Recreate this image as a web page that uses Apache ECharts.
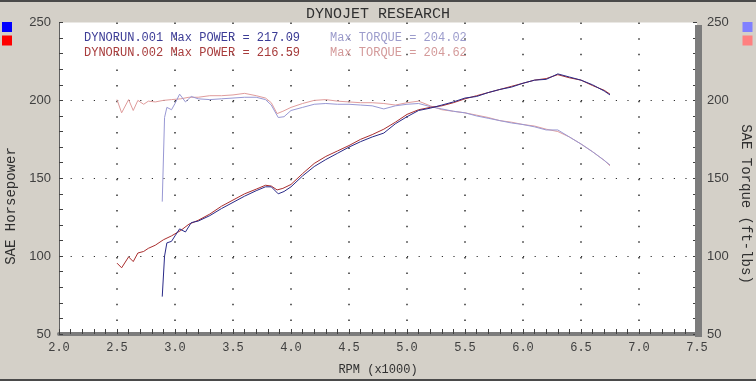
<!DOCTYPE html>
<html>
<head>
<meta charset="utf-8">
<script src="https://cdn.jsdelivr.net/npm/echarts@6/dist/echarts.min.js"></script>
<style>
html,body{margin:0;padding:0;background:#d4d0c8;}
#chart{width:756px;height:381px;}
</style>
</head>
<body>
<div id="chart"></div>
<script>
// ---- data ----
const chartTitle = 'DYNOJET RESEARCH';
const leftAxisName = 'SAE Horsepower';
const rightAxisName = 'SAE Torque (ft-lbs)';
const xAxisName = 'RPM (x1000)';
const runNames = ['DYNORUN.001', 'DYNORUN.002'];
const maxPower = [217.09, 216.59];
const maxTorque = [204.02, 204.62];
const xTickLabels = ['2.0','2.5','3.0','3.5','4.0','4.5','5.0','5.5','6.0','6.5','7.0','7.5'];
const yTickLabels = ['50','100','150','200','250'];

const run1Rpm = [2.89,2.91,2.93,2.97,3.00,3.04,3.09,3.14,3.20,3.30,3.40,3.50,3.60,3.70,3.78,3.83,3.89,3.94,4.00,4.10,4.20,4.30,4.40,4.50,4.60,4.70,4.80,4.90,5.00,5.10,5.20,5.30,5.40,5.50,5.60,5.70,5.80,5.90,6.00,6.10,6.20,6.30,6.40,6.50,6.60,6.70,6.75];
const run1Power = [74,100,108.5,109.5,113,117.5,115.5,121.5,122.5,126,130.5,134.5,138.5,142,144.5,144.5,140,141.5,144.5,151.5,157.5,162,166,170,173.5,176.5,179,185,189.5,193.5,195,197,199,201.5,202.5,205,207,208.5,211,213,213.5,217,215,213,210,206,203.5];
const run1Torque = [135,189,195.5,194,198,204,199,202.5,201,200.5,201,201.5,202,202,200.5,197,189,189.5,193.5,195.5,197.5,198,197.5,197.5,197,196.5,194.5,196.5,197.5,198,196,194.5,193,192,190,188.5,187,185.5,184.5,183,181,181,176.5,172,167,161.5,158.5];

const run2Rpm = [2.50,2.54,2.60,2.64,2.68,2.73,2.77,2.83,2.90,2.97,3.05,3.12,3.20,3.30,3.40,3.50,3.60,3.70,3.78,3.83,3.88,3.93,4.00,4.10,4.20,4.30,4.40,4.50,4.60,4.70,4.80,4.90,5.00,5.10,5.20,5.30,5.40,5.50,5.60,5.70,5.80,5.90,6.00,6.10,6.20,6.30,6.40,6.50,6.60,6.70,6.75];
const run2Power = [95.5,92.5,99.5,96.5,102,103,105,107,110.5,113,116.5,120.5,123,127,132,136,140,143,145.5,145,142.5,143.5,146,153,159.5,164,167.5,171,175,178,181.5,186,191,194,195.5,196.5,198.5,201,203,205,207,209,211,213,214,216.5,214.5,213,209.5,206.5,204];
const run2Torque = [200.5,192,200.5,193.5,200,197.5,199.5,199,200,200.5,201,202,202,203,203,203.5,204.5,203,201.5,198.5,191.5,193,195.5,198,200,200.5,199.5,199,198.5,198.5,198,197,198.5,199.5,196.5,194,193,192,190.5,189,187,186,184.5,183.5,181.5,180,176.5,172,167,161.5,158];

const zip = (xs, ys) => xs.map((x, i) => [x, ys[i]]);

const mono = 'Liberation Mono, Courier New, monospace';
const sans = 'Liberation Sans, Arial, sans-serif';
const colors = {
  p1: '#2a2a88', p2: '#aa2e2e', t1: '#9898d4', t2: '#e09c9c',
  l1: '#3c3c96', l1b: '#9c9ccc', l2: '#a83c3c', l2b: '#d49a9a'
};

const chart = echarts.init(document.getElementById('chart'), null, {renderer: 'canvas'});

const gridL = 59, gridR = 697, gridT = 22.5, gridB = 335;

const yAxisCommon = {
  type: 'value', min: 50, max: 250, interval: 50,
  axisLabel: {fontFamily: sans, fontSize: 13, color: '#404040', margin: 8,
    formatter: v => yTickLabels[(v - 50) / 50]},
  axisTick: {show: true, inside: true, length: 4, lineStyle: {color: '#404040'}},
  minorTick: {show: true, splitNumber: 5, length: 4, lineStyle: {color: '#404040'}}
};

const option = {
  backgroundColor: '#d4d0c8',
  animation: false,
  title: {
    text: chartTitle, left: 'center', top: 2,
    textStyle: {fontFamily: mono, fontSize: 15, fontWeight: 'normal', color: '#303030'}
  },
  grid: {left: gridL, right: 756 - gridR, top: gridT, bottom: 381 - gridB, backgroundColor: '#ffffff', show: true, borderWidth: 0},
  xAxis: {
    type: 'value', min: 2, max: 7.5, interval: 0.5,
    name: xAxisName, nameLocation: 'middle', nameGap: 30,
    nameTextStyle: {fontFamily: mono, fontSize: 12, color: '#303030'},
    axisLine: {show: true, onZero: false, lineStyle: {color: '#7c7c7c', width: 4}},
    axisTick: {show: true, inside: true, length: 5, lineStyle: {color: '#404040'}},
    minorTick: {show: true, splitNumber: 5, length: 5, lineStyle: {color: '#404040'}},
    axisLabel: {fontFamily: mono, fontSize: 12, color: '#404040', margin: 8,
      formatter: v => xTickLabels[Math.round((v - 2) / 0.5)]},
    splitLine: {show: true, showMinLine: false, showMaxLine: false,
      lineStyle: {color: '#303030', width: 1.5, type: [1.5, 14.125]}}
  },
  yAxis: [
    Object.assign({}, yAxisCommon, {
      position: 'left',
      axisLine: {show: true, lineStyle: {color: '#606060', width: 1}},
      splitLine: {show: true, showMinLine: false, showMaxLine: false,
        lineStyle: {color: '#303030', width: 1, type: [1.2, 10.4]}}
    }),
    Object.assign({}, yAxisCommon, {
      position: 'right',
      axisLabel: Object.assign({}, yAxisCommon.axisLabel, {margin: 10}),
      axisLine: {show: false},
      splitLine: {show: false}
    })
  ],
  graphic: [
    {type: 'rect', shape: {x: 0, y: 0, width: 756, height: 2}, style: {fill: '#4a4a4a'}, z: 10},
    {type: 'rect', shape: {x: 0, y: 379, width: 756, height: 2}, style: {fill: '#4a4a4a'}, z: 10},
    {type: 'rect', shape: {x: 695, y: 25, width: 7, height: 312}, style: {fill: '#7c7c7c'}, z: 1},
    {type: 'rect', shape: {x: 2, y: 22, width: 10, height: 10}, style: {fill: '#0000ff'}},
    {type: 'rect', shape: {x: 2, y: 35.5, width: 10, height: 10}, style: {fill: '#ff0000'}},
    {type: 'rect', shape: {x: 742.5, y: 22, width: 10, height: 10}, style: {fill: '#8080ff'}},
    {type: 'rect', shape: {x: 742.5, y: 35.5, width: 10, height: 10}, style: {fill: '#ff8080'}},
    {type: 'text', x: 11, y: 206, rotation: Math.PI / 2, style: {text: leftAxisName, font: '14px ' + mono, fill: '#303030', textAlign: 'center', textVerticalAlign: 'middle'}},
    {type: 'text', x: 746, y: 204, rotation: -Math.PI / 2, style: {text: rightAxisName, font: '14px ' + mono, fill: '#303030', textAlign: 'center', textVerticalAlign: 'middle'}},
    {type: 'text', x: 84, y: 37.5, style: {text: runNames[0] + ' Max POWER = ' + maxPower[0].toFixed(2), font: '12px ' + mono, fill: colors.l1, textVerticalAlign: 'middle'}, z: 20},
    {type: 'text', x: 84, y: 52.5, style: {text: runNames[1] + ' Max POWER = ' + maxPower[1].toFixed(2), font: '12px ' + mono, fill: colors.l2, textVerticalAlign: 'middle'}, z: 20},
    {type: 'text', x: 330, y: 37.5, style: {text: 'Max TORQUE = ' + maxTorque[0].toFixed(2), font: '12px ' + mono, fill: colors.l1b, textVerticalAlign: 'middle'}, z: 20},
    {type: 'text', x: 330, y: 52.5, style: {text: 'Max TORQUE = ' + maxTorque[1].toFixed(2), font: '12px ' + mono, fill: colors.l2b, textVerticalAlign: 'middle'}, z: 20}
  ],
  series: [
    {type: 'line', name: 'Torque 002', yAxisIndex: 1, data: zip(run2Rpm, run2Torque), showSymbol: false, symbol: 'none', lineStyle: {color: colors.t2, width: 1}, z: 3},
    {type: 'line', name: 'Torque 001', yAxisIndex: 1, data: zip(run1Rpm, run1Torque), showSymbol: false, symbol: 'none', lineStyle: {color: colors.t1, width: 1}, z: 3},
    {type: 'line', name: 'Power 002', yAxisIndex: 0, data: zip(run2Rpm, run2Power), showSymbol: false, symbol: 'none', lineStyle: {color: colors.p2, width: 1}, z: 4},
    {type: 'line', name: 'Power 001', yAxisIndex: 0, data: zip(run1Rpm, run1Power), showSymbol: false, symbol: 'none', lineStyle: {color: colors.p1, width: 1}, z: 4}
  ]
};
chart.setOption(option);
</script>
</body>
</html>
